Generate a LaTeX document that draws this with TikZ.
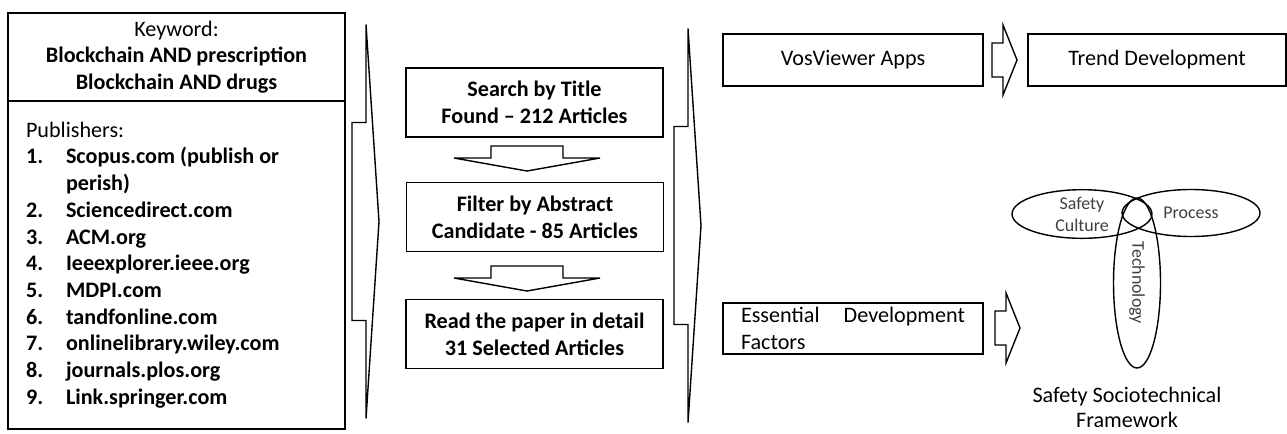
\documentclass[tikz,border=0pt]{standalone}
\usepackage{fontspec}
\setmainfont{Carlito}
\usetikzlibrary{shapes.geometric, positioning}
\definecolor{lblgrey}{HTML}{3F3F3F}

\newcommand{\figfont}{\fontsize{12.6}{15.2}\selectfont}
\newcommand{\pubitem}[2]{\makebox[0.8cm][l]{\textbf{#1}}\textbf{#2}}

\tikzset{
  blockarrow/.style={draw, line width=0.8pt, line join=miter},
  % tall open chevron between the stages
  chevron/.pic={\path[blockarrow] (0,-197) -- (13,0) -- (0,197) -- (0,99)
      -- (-14,99) -- (-14,-99) -- (0,-99) -- cycle;},
  downblock/.pic={\path[blockarrow] (-36,-12) -- (36,-12) -- (36,0) -- (73,0)
      -- (0,13) -- (-73,0) -- (-36,0) -- cycle;},
  rightblock/.pic={\path[blockarrow] (-11,-17) -- (0,-17) -- (0,-35) -- (14,0)
      -- (0,35) -- (0,17) -- (-11,17) -- cycle;}
}

\begin{document}
\begin{tikzpicture}[x=0.02cm, y=-0.02cm, font=\figfont,
  box/.style={draw, line width=0.8pt, align=center, inner sep=0pt},
  stage/.style={box, font=\figfont\bfseries, minimum width=5.14cm, minimum height=1.38cm},
  ell/.style={ellipse, draw, line width=0.8pt, inner sep=0pt, align=center,
              text=lblgrey, font=\fontsize{10.2}{12.5}\selectfont}]

\useasboundingbox (0,0) rectangle (1287,433);

% Sources
\node[box, minimum width=6.74cm, minimum height=1.76cm] (kw) at (176.5,57)
  {Keyword:\\ \textbf{Blockchain AND prescription}\\ \textbf{Blockchain AND drugs}};
\node[box, minimum width=6.74cm, minimum height=6.56cm, text width=6.02cm, align=flush left] (pub) at (176.5,265)
  {Publishers:\\
   \pubitem{1.}{Scopus.com (publish or}\\
   \hspace*{0.8cm}\textbf{perish)}\\
   \pubitem{2.}{Sciencedirect.com}\\
   \pubitem{3.}{ACM.org}\\
   \pubitem{4.}{Ieeexplorer.ieee.org}\\
   \pubitem{5.}{MDPI.com}\\
   \pubitem{6.}{tandfonline.com}\\
   \pubitem{7.}{onlinelibrary.wiley.com}\\
   \pubitem{8.}{journals.plos.org}\\
   \pubitem{9.}{Link.springer.com}};

\pic at (366,221.5) {chevron};

% Selection stages
\node[stage] (title) at (534.5,102.5) {Search by Title\\Found -- 212 Articles};
\node[stage] (abstract) at (535,217) {Filter by Abstract\\Candidate - 85 Articles};
\node[stage] (detail) at (534.5,334) {Read the paper in detail\\31 Selected Articles};

\pic at (527,158) {downblock};
\pic at (527,278) {downblock};

\pic at (688,225.5) {chevron};

% Results
\node[box, minimum width=5.2cm, minimum height=1.04cm] (vos) at (853,60) {VosViewer Apps};
\node[box, minimum width=5.16cm, minimum height=1.04cm] (trend) at (1157,60) {Trend Development};
\node[box, minimum width=5.2cm, minimum height=1.02cm, text width=4.48cm, align=flush left] (ess) at (853,328.5)
  {Essential\hfill Development\\Factors};

\pic at (1003,60) {rightblock};
\pic at (1006,328) {rightblock};

% Framework
\node[ell, minimum width=2.8cm, minimum height=0.92cm] (culture) at (1082,214) {Safety\\Culture};
\node[ell, minimum width=2.76cm, minimum height=0.94cm] (process) at (1191,213) {Process};
\node[ell, rotate=-90, minimum width=3.4cm, minimum height=0.94cm] (tech) at (1137,283) {Technology};
\node[align=center, font=\fontsize{12.6}{14.2}\selectfont] (frame) at (1127,407.5)
  {Safety Sociotechnical\\Framework};

\end{tikzpicture}
\end{document}
